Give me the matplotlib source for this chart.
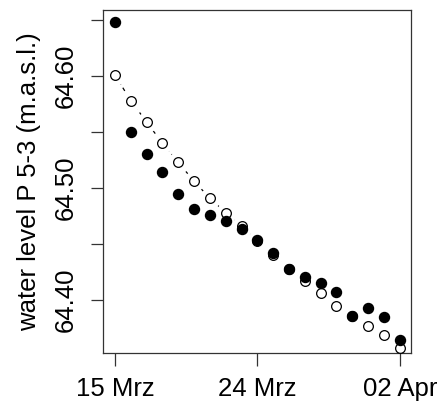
import matplotlib.pyplot as plt
import matplotlib.dates as mdates
import numpy as np
import datetime as dt

# données : niveau d'eau P 5-3, un point par jour
dates = [dt.date(2013, 3, 15) + dt.timedelta(days=i) for i in range(19)]
measured = [64.648, 64.550, 64.530, 64.514, 64.495, 64.481, 64.476, 64.471, 64.463,
            64.454, 64.442, 64.428, 64.421, 64.415, 64.407, 64.386, 64.393, 64.385, 64.364]
modelled = [64.601, 64.578, 64.559, 64.540, 64.523, 64.506, 64.491, 64.478, 64.466,
            64.453, 64.440, 64.428, 64.417, 64.406, 64.395, 64.386, 64.377, 64.369, 64.357]
xtick_dates = [dt.date(2013, 3, 15), dt.date(2013, 3, 24), dt.date(2013, 4, 2)]
xtick_labels = ["15 Mrz", "24 Mrz", "02 Apr"]
ytick_vals = [64.40, 64.45, 64.50, 64.55, 64.60, 64.65]
ytick_labels = ["64.40", "", "64.50", "", "64.60", ""]

plt.rcParams['font.family'] = ['Liberation Sans', 'DejaVu Sans']
fs = 18.5

fig = plt.figure(figsize=(4.38, 4.03), dpi=100)
ax = fig.add_axes([0.235, 0.124, 0.703, 0.851])

# ligne pointillée type "b" de R : interrompue autour des points
ax.plot(dates, modelled, color='black', lw=0.9, linestyle=(0, (3, 3)), zorder=1)
ax.plot(dates, modelled, 'o', color='white', markersize=15, markeredgewidth=0, zorder=2)
ax.plot(dates, modelled, 'o', markerfacecolor='white', markeredgecolor='black',
        markersize=7, markeredgewidth=0.9, zorder=3)
ax.plot(dates, measured, 'o', color='black', markersize=7.2, zorder=4)

ax.set_xlim(mdates.date2num(dt.date(2013, 3, 15)) - 0.76, mdates.date2num(dt.date(2013, 3, 15)) + 18.7)
ax.set_ylim(64.3527, 64.6589)
ax.set_xticks(xtick_dates, xtick_labels, fontsize=fs)
ax.set_yticks(ytick_vals, ytick_labels, fontsize=fs, rotation=90, va='center')
ax.tick_params(axis='x', length=9, width=0.9, pad=8, colors='#333333', labelcolor='black')
ax.tick_params(axis='y', length=9, width=0.9, pad=9, colors='#333333', labelcolor='black')
ax.set_ylabel("water level P 5-3 (m.a.s.l.)", fontsize=fs, labelpad=9)
for s in ax.spines.values():
    s.set_color('#333333')
    s.set_linewidth(0.9)

fig.savefig('out.png', dpi=100)
